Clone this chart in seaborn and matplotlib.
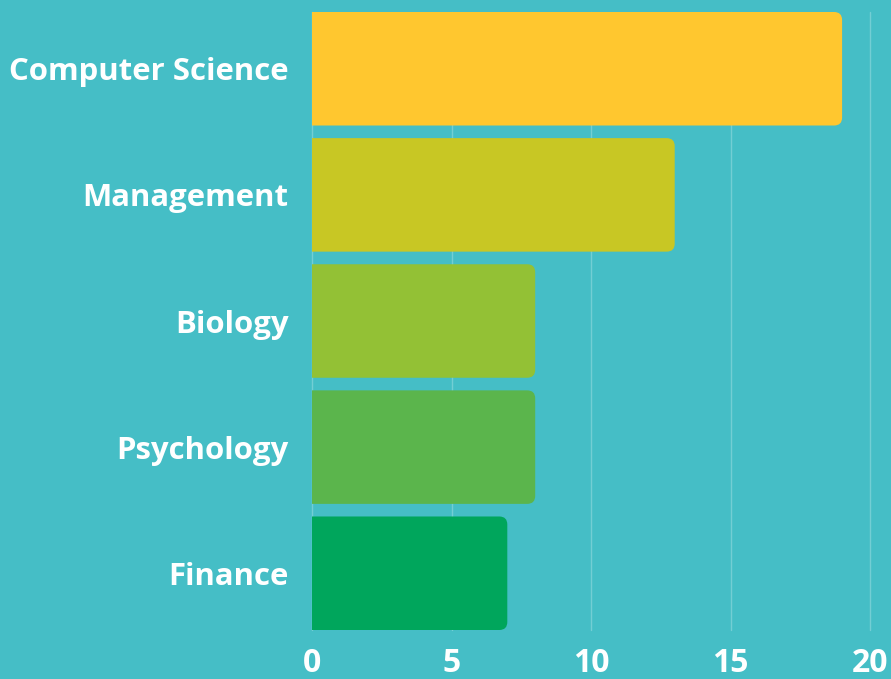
import matplotlib
matplotlib.use("Agg")
import matplotlib.pyplot as plt
import seaborn as sns
import pandas as pd
from matplotlib.patches import PathPatch
from matplotlib.path import Path

# data
categories = ["Computer Science", "Management", "Biology", "Psychology", "Finance"]
values = [19, 13, 8, 8, 7]
bar_colors = ["#FFC72F", "#C8C724", "#93C135", "#5BB54C", "#00A65C"]
x_ticks = [0, 5, 10, 15, 20]

bg = "#45BEC6"

sns.set_theme(style="white")
plt.rcParams["font.family"] = ["Open Sans", "DejaVu Sans"]

df = pd.DataFrame({"field": categories, "count": values})

fig = plt.figure(figsize=(8.91, 6.79), dpi=100)
fig.patch.set_facecolor(bg)
ax = fig.add_axes([312 / 891, 49 / 679, 558 / 891, 618 / 679])
ax.set_facecolor(bg)

sns.barplot(data=df, x="count", y="field", hue="field", palette=bar_colors,
            saturation=1, legend=False, width=0.9, orient="h", ax=ax, zorder=2)

ax.set_xlim(0, 20)
ax.set_ylim(len(categories) - 0.55, -0.45)

# swap the plain bars for ones rounded on the right end only
px_x = 558 / 20
px_y = 618 / (len(categories) - 0.1)
rx = 8 / px_x
ry = 8 / px_y
for p in list(ax.patches):
    x0, y0 = p.get_x(), p.get_y()
    x1, y1 = x0 + p.get_width(), y0 + p.get_height()
    c = p.get_facecolor()
    p.set_visible(False)
    verts = [(x0, y0), (x1 - rx, y0), (x1, y0), (x1, y0 + ry),
             (x1, y1 - ry), (x1, y1), (x1 - rx, y1), (x0, y1), (x0, y0)]
    codes = [Path.MOVETO, Path.LINETO, Path.CURVE3, Path.CURVE3,
             Path.LINETO, Path.CURVE3, Path.CURVE3, Path.LINETO, Path.CLOSEPOLY]
    ax.add_patch(PathPatch(Path(verts, codes), fc=c, ec="none", zorder=2))

ax.set_xticks(x_ticks)
ax.grid(axis="x", color="white", alpha=0.25, lw=1, zorder=0)
for gl in ax.get_xgridlines():
    gl.set_clip_on(False)
ax.set_axisbelow(True)

for s in ax.spines.values():
    s.set_visible(False)

ax.set_xlabel("")
ax.set_ylabel("")
ax.tick_params(axis="y", length=0, pad=17, labelsize=22.4, labelcolor="white")
ax.tick_params(axis="x", length=0, pad=12, labelsize=23, labelcolor="white")
for lab in ax.get_xticklabels() + ax.get_yticklabels():
    lab.set_fontweight("bold")

fig.savefig("out.png", dpi=100, facecolor=bg)
